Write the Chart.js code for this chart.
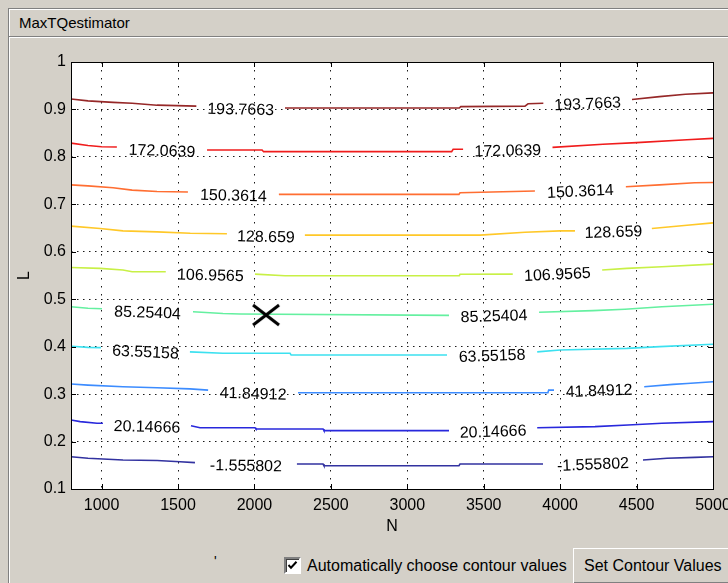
<!DOCTYPE html>
<html>
<head>
<meta charset="utf-8">
<title>MaxTQestimator</title>
<script src="https://cdn.jsdelivr.net/npm/chart.js@4.4.1/dist/chart.umd.min.js"></script>
<style>
  html, body { margin: 0; padding: 0; }
  body {
    width: 728px; height: 583px; overflow: hidden; position: relative;
    background: #d4d0c8; color: #000;
    font-family: "Liberation Sans", Arial, sans-serif;
  }
  #frame {
    position: absolute; left: 8px; top: 8px; width: 740px; height: 600px;
    border-left: 1px solid #808080; border-top: 1px solid #808080;
    box-shadow: inset 1px 1px 0 #ffffff;
  }
  #titlebar {
    position: absolute; left: 9px; top: 9px; width: 740px; height: 27px;
    border-bottom: 1px solid #808080; box-shadow: 0 1px 0 #ffffff;
  }
  #title { position: absolute; left: 19px; top: 14px; font-size: 15px; line-height: 18px; }
  #tick { position: absolute; left: 214px; top: 553px; font-size: 14px; line-height: 16px; }
  #check {
    position: absolute; left: 284px; top: 557px; width: 13px; height: 13px;
    background: #fff; border: 2px solid; border-color: #808080 #ffffff #ffffff #808080;
    box-shadow: inset 1px 1px 0 #404040;
  }
  #check svg { position: absolute; left: 1px; top: 1px; }
  #checkText { position: absolute; left: 307px; top: 556px; font-size: 16px; line-height: 20px; white-space: nowrap; }
  #button {
    position: absolute; left: 573px; top: 548px; width: 170px; height: 34px;
    border: 1px solid; border-color: #ffffff #404040 #404040 #ffffff;
    box-shadow: inset -1px -1px 0 #808080;
  }
  #button span { position: absolute; left: 10px; top: 7px; font-size: 16px; line-height: 20px; white-space: nowrap; }
  #wrap { position: absolute; left: 0; top: 0; width: 728px; height: 583px; }
</style>
</head>
<body>
<div id="frame"></div>
<div id="titlebar"></div>
<div id="title">MaxTQestimator</div>
<div id="tick">'</div>
<div id="check"><svg width="11" height="11" viewBox="0 0 11 11"><path d="M1.5 5 L4 7.8 L9.5 1.8" fill="none" stroke="#000" stroke-width="2"/></svg></div>
<div id="checkText">Automatically choose contour values</div>
<div id="button"><span>Set Contour Values</span></div>
<div id="wrap"><canvas id="chart" width="728" height="583"></canvas></div>

<script>
// axis ticks
const nTicks = [1000, 1500, 2000, 2500, 3000, 3500, 4000, 4500, 5000];
const lTicks = [0.1, 0.2, 0.3, 0.4, 0.5, 0.6, 0.7, 0.8, 0.9, 1];

// contour levels, top to bottom
const levelLabels = ['193.7663', '172.0639', '150.3614', '128.659', '106.9565',
                     '85.25404', '63.55158', '41.84912', '20.14666', '-1.555802'];

// each contour: segments of [N, L], broken where a label sits
const line193 = [
    [[800, 0.922], [911, 0.918], [1075, 0.915], [1200, 0.913], [1363, 0.909], [1620, 0.907]],
    [[2200, 0.903], [3340, 0.903], [3350, 0.906], [3770, 0.907], [3790, 0.912], [3890, 0.913]],
    [[4470, 0.921], [4650, 0.927], [4820, 0.932], [5000, 0.935]]
];
const line172 = [
    [[800, 0.829], [911, 0.824], [1000, 0.8215], [1100, 0.821]],
    [[1690, 0.8145], [2050, 0.8145], [2060, 0.811], [3290, 0.811], [3300, 0.816], [3365, 0.816]],
    [[3950, 0.820], [4280, 0.8265], [4500, 0.830], [4830, 0.836], [5000, 0.839]]
];
const line150 = [
    [[800, 0.741], [911, 0.739], [1075, 0.735], [1200, 0.730], [1363, 0.727], [1565, 0.726]],
    [[2160, 0.721], [3338, 0.721], [3345, 0.7245], [3835, 0.728]],
    [[4430, 0.737], [4650, 0.741], [4880, 0.7455], [5000, 0.746]]
];
const line128 = [
    [[800, 0.654], [990, 0.649], [1140, 0.644], [1363, 0.642], [1580, 0.639], [1820, 0.638]],
    [[2330, 0.635], [3476, 0.635], [3770, 0.641], [4000, 0.644], [4097, 0.644]],
    [[4600, 0.649], [4830, 0.656], [5000, 0.661]]
];
const line107 = [
    [[800, 0.567], [990, 0.565], [1140, 0.5615], [1200, 0.558], [1420, 0.558]],
    [[2004, 0.553], [2200, 0.5495], [3340, 0.5495], [3345, 0.5525], [3690, 0.553]],
    [[4275, 0.5615], [4437, 0.565], [4666, 0.5685], [5000, 0.574]]
];
const line85 = [
    [[800, 0.484], [911, 0.481], [1003, 0.480]],
    [[1598, 0.4737], [1794, 0.470], [1906, 0.469], [3273, 0.466]],
    [[3862, 0.4725], [4215, 0.476], [4424, 0.479], [4666, 0.484], [5000, 0.4893]]
];
const line64 = [
    [[800, 0.401], [911, 0.3985], [996, 0.398]],
    [[1578, 0.389], [1794, 0.386], [2233, 0.386], [2240, 0.3825], [3260, 0.3825]],
    [[3850, 0.389], [4000, 0.393], [4437, 0.3965], [4653, 0.400], [5000, 0.405]]
];
const line42 = [
    [[800, 0.3213], [911, 0.319], [1140, 0.3155], [1363, 0.3135], [1578, 0.311], [1697, 0.3085]],
    [[2285, 0.303], [3920, 0.303], [3925, 0.3085], [3960, 0.3085]],
    [[4550, 0.3155], [4738, 0.3205], [4830, 0.3225], [5000, 0.326]]
];
const line20 = [
    [[800, 0.2453], [860, 0.242], [970, 0.2385], [1009, 0.2385]],
    [[1585, 0.2333], [1644, 0.229], [2004, 0.229], [2010, 0.2265], [2449, 0.2265], [2455, 0.223], [3273, 0.223]],
    [[3850, 0.229], [4228, 0.2315], [4444, 0.235], [4666, 0.2385], [5000, 0.242]]
];
const lineNeg = [
    [[800, 0.168], [911, 0.1647], [1140, 0.161], [1363, 0.160], [1513, 0.1575], [1611, 0.1555]],
    [[2278, 0.1526], [2449, 0.1526], [2455, 0.149], [3338, 0.149], [3345, 0.1526], [3888, 0.1526]],
    [[4542, 0.161], [4699, 0.1647], [4882, 0.1667], [5000, 0.168]]
];

// the chosen operating point (black cross)
const markerN = [2076];
const markerL = [0.4667];

const contours = [line193, line172, line150, line128, line107, line85, line64, line42, line20, lineNeg];
const lineColors = ['#962828', '#f01c1c', '#ff6e32', '#ffc828', '#c8f046',
                    '#64f0a0', '#3ce1f0', '#3c8cff', '#2828dc', '#3232a0'];

const FONT = '"Liberation Sans", Arial, sans-serif';

function toPoints(segments) {
    let pts = [];
    segments.forEach((seg, i) => {
        if (i > 0) {
            // null point breaks the line where the label goes
            pts.push({ x: seg[0][0] - 1, y: null });
        }
        seg.forEach(p => pts.push({ x: p[0], y: p[1] }));
    });
    return pts;
}

function makeCross() {
    let c = document.createElement('canvas');
    c.width = 30; c.height = 24;
    let g = c.getContext('2d');
    g.strokeStyle = '#000';
    g.lineWidth = 3;
    g.beginPath();
    g.moveTo(2, 2); g.lineTo(28, 22);
    g.moveTo(28, 2); g.lineTo(2, 22);
    g.stroke();
    return c;
}

// white plot background
const plotBackground = {
    id: 'plotBackground',
    beforeDraw(chart) {
        const { ctx, chartArea: a } = chart;
        ctx.save();
        ctx.fillStyle = '#fff';
        ctx.fillRect(a.left, a.top, a.right - a.left, a.bottom - a.top);
        ctx.restore();
    }
};

// inline contour labels, centred in each gap
const contourLabels = {
    id: 'contourLabels',
    afterDatasetsDraw(chart) {
        const { ctx, scales: { x, y } } = chart;
        ctx.save();
        ctx.font = '16px ' + FONT;
        ctx.fillStyle = '#000';
        ctx.textAlign = 'center';
        ctx.textBaseline = 'middle';
        contours.forEach((segs, i) => {
            for (let k = 1; k < segs.length; k++) {
                let a = segs[k - 1][segs[k - 1].length - 1];
                let b = segs[k][0];
                let ax = x.getPixelForValue(a[0]), ay = y.getPixelForValue(a[1]);
                let bx = x.getPixelForValue(b[0]), by = y.getPixelForValue(b[1]);
                ctx.save();
                ctx.translate((ax + bx) / 2, (ay + by) / 2 + 3);
                ctx.rotate(Math.atan2(by - ay, bx - ax));
                ctx.fillText(levelLabels[i], 0, 0);
                ctx.restore();
            }
        });
        ctx.restore();
    }
};

// MATLAB-style box with inward ticks on all four sides
const axesBox = {
    id: 'axesBox',
    afterDraw(chart) {
        const { ctx, chartArea: a, scales: { x, y } } = chart;
        ctx.save();
        ctx.strokeStyle = '#000';
        ctx.lineWidth = 1;
        ctx.strokeRect(a.left + 0.5, a.top + 0.5, a.right - a.left, a.bottom - a.top);
        ctx.beginPath();
        nTicks.forEach(v => {
            let px = Math.round(x.getPixelForValue(v)) + 0.5;
            ctx.moveTo(px, a.bottom); ctx.lineTo(px, a.bottom - 5);
            ctx.moveTo(px, a.top); ctx.lineTo(px, a.top + 5);
        });
        lTicks.forEach(v => {
            let py = Math.round(y.getPixelForValue(v)) + 0.5;
            ctx.moveTo(a.left, py); ctx.lineTo(a.left + 5, py);
            ctx.moveTo(a.right, py); ctx.lineTo(a.right - 5, py);
        });
        ctx.stroke();
        ctx.restore();
    }
};

let datasets = contours.map((segs, i) => ({
    label: levelLabels[i],
    data: toPoints(segs),
    borderColor: lineColors[i],
    borderWidth: 1.6,
    pointRadius: 0,
    tension: 0,
    spanGaps: false,
    order: 1
}));

datasets.unshift({
    label: 'operating point',
    data: markerN.map((n, i) => ({ x: n, y: markerL[i] })),
    showLine: false,
    pointStyle: makeCross(),
    pointRadius: 10,
    borderWidth: 0,
    order: 0
});

const tickFont = { family: FONT, size: 16 };

new Chart(document.getElementById('chart'), {
    type: 'line',
    data: { datasets: datasets },
    plugins: [plotBackground, contourLabels, axesBox],
    options: {
        responsive: false,
        animation: false,
        events: [],
        layout: { padding: { left: 15, top: 62, right: 15, bottom: 47 } },
        plugins: { legend: { display: false }, tooltip: { enabled: false } },
        scales: {
            x: {
                type: 'linear',
                min: 800,
                max: 5000,
                afterBuildTicks: s => { s.ticks = nTicks.map(v => ({ value: v })); },
                afterFit: s => { s.height = 47; s.paddingLeft = 0; s.paddingRight = 0; },
                ticks: { font: tickFont, color: '#000', padding: 7, maxRotation: 0, autoSkip: false,
                         callback: v => String(v) },
                grid: { color: 'rgba(0,0,0,0.9)', lineWidth: 1, drawTicks: false },
                border: { display: false, dash: [1.5, 6.5] },
                title: { display: true, text: 'N', font: tickFont, color: '#000', padding: 0 }
            },
            y: {
                type: 'linear',
                min: 0.1,
                max: 1,
                afterBuildTicks: s => { s.ticks = lTicks.map(v => ({ value: v })); },
                afterFit: s => { s.width = 56; s.paddingTop = 0; s.paddingBottom = 0; },
                ticks: { font: tickFont, color: '#000', padding: 5, autoSkip: false,
                         callback: v => String(Math.round(v * 10) / 10) },
                grid: { color: 'rgba(0,0,0,0.9)', lineWidth: 1, drawTicks: false },
                border: { display: false, dash: [1.5, 4.5] },
                title: { display: true, text: 'L', font: tickFont, color: '#000', padding: 0 }
            }
        }
    }
});
</script>
</body>
</html>
